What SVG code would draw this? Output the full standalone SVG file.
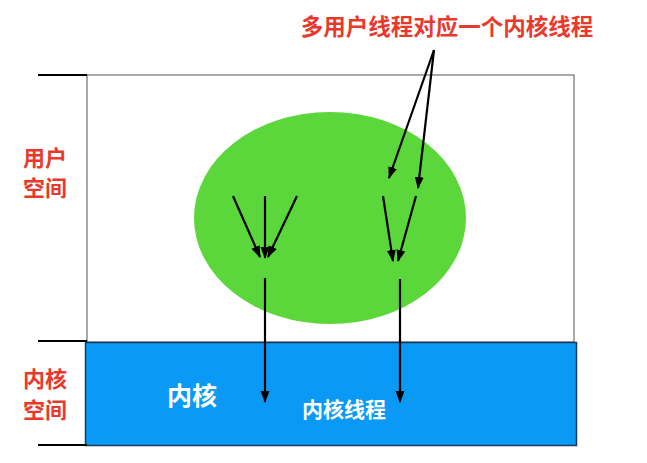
<svg xmlns="http://www.w3.org/2000/svg" width="647" height="463" viewBox="0 0 647 463">
<defs>
<marker id="ah" viewBox="0 0 12 10" refX="11" refY="5" markerWidth="12" markerHeight="10" orient="auto" markerUnits="userSpaceOnUse">
<path d="M0,0.5 L12,5 L0,9.5 z" fill="#000"/>
</marker>
<style>
.lbl{font-family:"Noto Sans CJK SC","Liberation Sans",sans-serif;fill:#e8392c;font-weight:bold;}
.wt{font-family:"Noto Sans CJK SC","Liberation Sans",sans-serif;fill:#fff;font-weight:bold;}
.ar{stroke:#000;stroke-width:2.2;fill:none;}
.tick{stroke:#000;stroke-width:2;}
</style>
</defs>
<rect width="647" height="463" fill="#fff"/>
<g id="user-space">
<rect x="87" y="75" width="487" height="267" fill="#fff" stroke="#555" stroke-width="1"/>
</g>
<g id="kernel-space">
<rect x="85.5" y="342.5" width="491" height="103" fill="#0a9af5" stroke="#1b3a5a" stroke-width="1.5"/>
<text class="wt" x="192" y="405" font-size="25" text-anchor="middle">内核</text>
<text class="wt" x="344" y="417" font-size="21" text-anchor="middle">内核线程</text>
</g>
<g id="user-threads">
<ellipse cx="330" cy="218" rx="136" ry="106" fill="#5bd63b"/>
</g>
<g id="ticks">
<line class="tick" x1="38" y1="75" x2="87" y2="75"/>
<line class="tick" x1="38" y1="341" x2="87" y2="341"/>
<line class="tick" x1="38" y1="445" x2="87" y2="445"/>
</g>
<g id="labels">
<text class="lbl" x="45" y="166" font-size="22" text-anchor="middle">用户</text>
<text class="lbl" x="45" y="196" font-size="22" text-anchor="middle">空间</text>
<text class="lbl" x="45" y="387" font-size="22" text-anchor="middle">内核</text>
<text class="lbl" x="45" y="418" font-size="22" text-anchor="middle">空间</text>
<text class="lbl" x="447" y="35" font-size="22.5" text-anchor="middle">多用户线程对应一个内核线程</text>
</g>
<g id="connectors">
<line class="ar" x1="233" y1="196" x2="260" y2="257" marker-end="url(#ah)"/>
<line class="ar" x1="265" y1="196" x2="265" y2="258" marker-end="url(#ah)"/>
<line class="ar" x1="297" y1="196" x2="268" y2="257" marker-end="url(#ah)"/>
<line class="ar" x1="383" y1="196" x2="393" y2="261" marker-end="url(#ah)"/>
<line class="ar" x1="416" y1="196" x2="398" y2="261" marker-end="url(#ah)"/>
<line class="ar" x1="434" y1="50" x2="389" y2="178" marker-end="url(#ah)"/>
<line class="ar" x1="434" y1="50" x2="418" y2="188" marker-end="url(#ah)"/>
<line class="ar" x1="265" y1="278" x2="265" y2="402" marker-end="url(#ah)"/>
<line class="ar" x1="400" y1="279" x2="400" y2="402" marker-end="url(#ah)"/>
</g>
</svg>
